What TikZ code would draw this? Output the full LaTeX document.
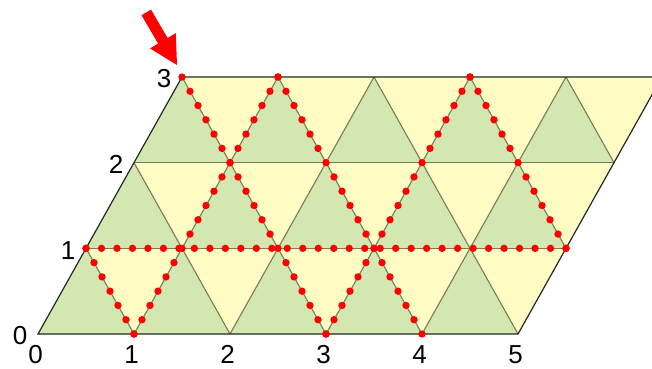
\documentclass[tikz,border=0pt]{standalone}
\usepackage{fontspec}
\setmainfont{Liberation Sans}
\usetikzlibrary{calc}
\definecolor{tgreen}{RGB}{211,232,176}
\definecolor{tyellow}{RGB}{255,252,196}
\definecolor{gridc}{RGB}{122,122,88}
\definecolor{dotred}{RGB}{255,0,0}
\begin{document}
\begin{tikzpicture}[x={(96pt,0pt)}, y={(48pt,85.67pt)},
  upt/.style={fill=tgreen},
  dnt/.style={fill=tyellow},
  gridline/.style={draw=gridc, line width=1.1pt},
  border/.style={draw=black!85, line width=1.2pt, line join=miter},
  reddot/.style={fill=dotred},
  lbl/.style={font=\fontsize{26}{30}\selectfont, inner sep=0pt}]
\useasboundingbox (-38pt,-34pt) rectangle (614pt,334pt);
\clip (-38pt,-34pt) rectangle (614pt,334pt);
% lattice points
\foreach \i in {0,...,5} \foreach \j in {0,...,3} \coordinate (p-\i-\j) at (\i,\j);
% triangle fills
\foreach \i in {0,...,4} \foreach \j in {0,...,2} {
  \pgfmathtruncatemacro\ii{\i+1}\pgfmathtruncatemacro\jj{\j+1}
  \path[upt] (p-\i-\j) -- (p-\ii-\j) -- (p-\i-\jj) -- cycle;
  \path[dnt] (p-\ii-\j) -- (p-\ii-\jj) -- (p-\i-\jj) -- cycle;
}
% grid lines
\foreach \j in {1,2} \draw[gridline] (p-0-\j) -- (p-5-\j);
\foreach \i in {1,...,4} \draw[gridline] (p-\i-0) -- (p-\i-3);
\foreach \i in {0,...,4} \foreach \j in {0,...,2} {
  \pgfmathtruncatemacro\ii{\i+1}\pgfmathtruncatemacro\jj{\j+1}
  \draw[gridline] (p-\ii-\j) -- (p-\i-\jj);
}
% border
\draw[border] (p-0-0) -- (p-5-0) -- (p-5-3) -- (p-0-3) -- cycle;
% red dotted route
\foreach \a/\b/\n in {p-0-3/p-3-0/18, p-3-0/p-3-3/18, p-3-3/p-5-1/12, p-5-1/p-0-1/31,
                      p-0-1/p-1-0/6, p-1-0/p-1-3/18, p-1-3/p-4-0/18} {
  \foreach \t in {0,...,\n}
    \fill[reddot] ($(\a)!\t/\n!(\b)$) circle (3.7pt);
}
% arrow
\fill[dotred] (113pt,324.4pt) -- (129.6pt,296pt) -- (137.8pt,300.8pt) -- (139pt,269pt)
  -- (112pt,285.6pt) -- (120.1pt,290.4pt) -- (103.5pt,318.8pt) -- cycle;
% labels
\foreach \i in {0,...,5} \node[lbl] (b\i) at ($(p-\i-0)+(-2.5pt,-20.5pt)$) {\i};
\foreach \j in {0,...,3} \node[lbl] (l\j) at ($(p-0-\j)+(-18pt,-2pt)$) {\j};
\end{tikzpicture}
\end{document}
